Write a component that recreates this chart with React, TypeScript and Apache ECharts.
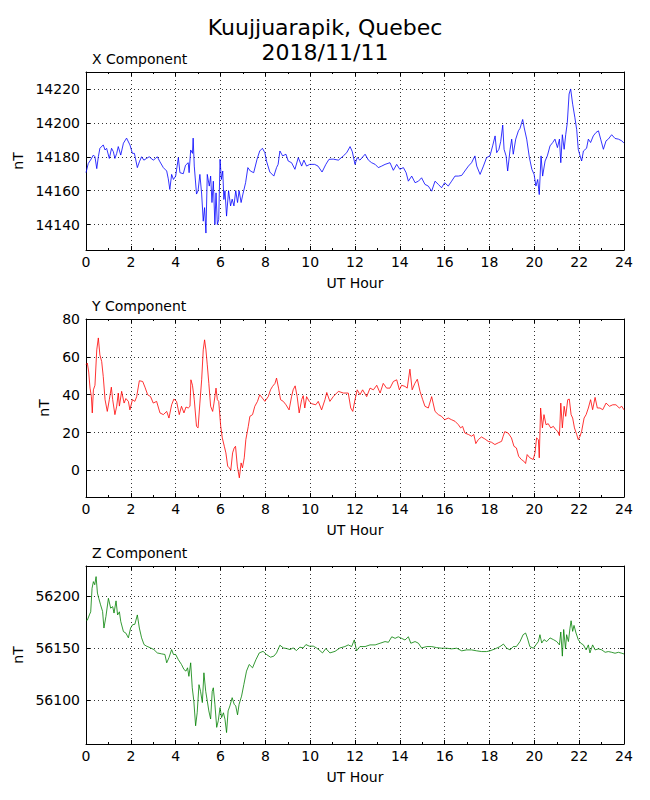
import React, { useEffect, useRef } from "react";
import * as echarts from "echarts";

const TITLE_LINE1 = "Kuujjuarapik, Quebec";
const TITLE_LINE2 = "2018/11/11";
const PANEL_TITLES = ["X Component", "Y Component", "Z Component"];
const X_AXIS_NAME = "UT Hour";
const Y_AXIS_NAME = "nT";
const LINE_COLORS = ["#0000ff", "#ff0000", "#008000"];

const X_TICKS = [14140, 14160, 14180, 14200, 14220];
const Y_TICKS = [0, 20, 40, 60, 80];
const Z_TICKS = [56100, 56150, 56200];
const X_RANGE = [14125, 14230];
const Y_RANGE = [-14, 80];
const Z_RANGE = [56058, 56229];

const xComp: [number, number][] = [
  [0, 14170.6], [0.1, 14176], [0.2, 14178], [0.33, 14181], [0.4, 14180], [0.48, 14173], [0.55, 14180], [0.62, 14185], [0.77, 14187], [0.85, 14184], [0.92, 14185], [1.04, 14179], [1.14, 14185], [1.22, 14183], [1.29, 14179], [1.37, 14182], [1.44, 14186], [1.55, 14181], [1.67, 14188], [1.81, 14191], [1.96, 14187], [2.07, 14182], [2.16, 14182], [2.29, 14173.6], [2.38, 14177], [2.48, 14180], [2.58, 14178], [2.7, 14179], [2.82, 14180], [3.0, 14178], [3.1, 14179], [3.18, 14180], [3.3, 14177], [3.45, 14173.6], [3.6, 14171.6], [3.67, 14167], [3.74, 14160.7], [3.82, 14169.6], [3.9, 14166.6], [4.0, 14168.6], [4.12, 14179.5], [4.19, 14170.6], [4.34, 14170], [4.44, 14175], [4.56, 14176.5], [4.6, 14170.6], [4.67, 14184], [4.75, 14182], [4.78, 14191], [4.83, 14174.5], [4.93, 14158], [5.0, 14160], [5.08, 14169.6], [5.16, 14158], [5.23, 14142], [5.29, 14150], [5.35, 14135], [5.41, 14169.6], [5.5, 14162.7], [5.56, 14168.6], [5.62, 14153], [5.68, 14165.6], [5.75, 14140], [5.8, 14158.7], [5.86, 14140], [5.92, 14143], [5.98, 14178.5], [6.04, 14166.6], [6.1, 14171.6], [6.15, 14154.8], [6.2, 14160], [6.27, 14145], [6.36, 14160], [6.45, 14151], [6.52, 14155], [6.6, 14151], [6.68, 14160], [6.76, 14153], [6.83, 14160], [6.92, 14153], [7.0, 14158], [7.12, 14164.7], [7.22, 14173.6], [7.33, 14171.6], [7.48, 14170.6], [7.63, 14178.5], [7.75, 14183.4], [7.87, 14185], [7.98, 14182.4], [8.05, 14177.5], [8.2, 14171], [8.38, 14168.6], [8.5, 14173.6], [8.57, 14175.5], [8.65, 14183.4], [8.77, 14180.5], [8.92, 14181.5], [9.02, 14177.5], [9.17, 14176.5], [9.32, 14172.6], [9.47, 14179.5], [9.62, 14174.5], [9.72, 14178], [9.84, 14174.5], [9.98, 14175.5], [10.2, 14175.5], [10.35, 14174.5], [10.53, 14171], [10.7, 14175.5], [10.84, 14178.5], [11.03, 14178.6], [11.26, 14178], [11.48, 14180.5], [11.63, 14182.4], [11.78, 14186], [11.88, 14183], [12.0, 14175.5], [12.1, 14179.5], [12.22, 14178], [12.45, 14181.5], [12.6, 14178], [12.74, 14176.5], [12.9, 14175.5], [13.04, 14173.6], [13.19, 14174.5], [13.34, 14175.5], [13.56, 14176.5], [13.71, 14172], [13.86, 14175.5], [14.0, 14172.6], [14.16, 14173.6], [14.28, 14170.6], [14.38, 14165.6], [14.53, 14168.6], [14.68, 14164.7], [14.83, 14165.6], [14.97, 14167.6], [15.12, 14163.7], [15.27, 14162.7], [15.42, 14159.7], [15.57, 14165.6], [15.72, 14163.7], [15.86, 14161.7], [16.0, 14164.7], [16.16, 14162.7], [16.31, 14165.6], [16.46, 14168.6], [16.61, 14168.6], [16.76, 14169], [16.9, 14171.6], [17.06, 14174.5], [17.2, 14176.5], [17.35, 14180.5], [17.43, 14174.5], [17.58, 14169.6], [17.73, 14174.5], [17.87, 14179.5], [18.02, 14180.5], [18.14, 14186.4], [18.25, 14192.3], [18.32, 14182.4], [18.42, 14184.4], [18.5, 14189], [18.59, 14198.7], [18.65, 14184.4], [18.74, 14180.5], [18.81, 14171.6], [18.92, 14184.4], [18.99, 14190.4], [19.06, 14181.5], [19.17, 14190.4], [19.29, 14195.3], [19.36, 14196.7], [19.48, 14202], [19.55, 14197], [19.66, 14190.4], [19.78, 14179.5], [19.89, 14172.6], [19.99, 14169.6], [20.07, 14162.7], [20.15, 14166.6], [20.22, 14157.7], [20.3, 14180.5], [20.37, 14168.6], [20.48, 14177.5], [20.58, 14180.5], [20.7, 14186.4], [20.82, 14188.4], [20.92, 14190.4], [21.03, 14185.4], [21.12, 14190.4], [21.18, 14176.5], [21.25, 14193], [21.33, 14184.4], [21.4, 14193], [21.47, 14200], [21.55, 14217], [21.62, 14220], [21.71, 14211], [21.81, 14203], [21.89, 14196], [21.96, 14184.4], [22.04, 14180.5], [22.11, 14177.5], [22.19, 14183.4], [22.33, 14185], [22.41, 14190.4], [22.51, 14188.4], [22.63, 14192.3], [22.75, 14194.3], [22.86, 14195.3], [22.96, 14190.4], [23.08, 14184.4], [23.2, 14189.4], [23.3, 14190.4], [23.45, 14193], [23.6, 14190.8], [23.75, 14190.4], [23.9, 14189.4], [24.0, 14188],
];

const yComp: [number, number][] = [
  [0, 55.8], [0.06, 56.7], [0.12, 52], [0.18, 43.5], [0.24, 39], [0.28, 30.4], [0.33, 42.6], [0.4, 45], [0.48, 63.7], [0.55, 70], [0.62, 61], [0.7, 57.5], [0.77, 49.6], [0.85, 37.4], [0.95, 31.2], [1.04, 37.4], [1.13, 44], [1.19, 37.4], [1.29, 29.5], [1.37, 34], [1.44, 40.9], [1.49, 34], [1.59, 41.8], [1.7, 35.6], [1.78, 38], [1.89, 36.5], [1.96, 32], [2.07, 37.4], [2.18, 36.5], [2.26, 39], [2.38, 47.4], [2.53, 47], [2.63, 44], [2.75, 40], [2.88, 39], [3.0, 35.6], [3.15, 36.5], [3.3, 30.4], [3.45, 29.5], [3.6, 31.2], [3.7, 27.7], [3.82, 34.7], [3.92, 37.7], [4.04, 36.5], [4.16, 29.5], [4.26, 33.9], [4.37, 30.4], [4.46, 33.5], [4.56, 33], [4.64, 33.9], [4.68, 47.9], [4.75, 45], [4.83, 37.4], [4.93, 23.3], [5.0, 22.5], [5.08, 35.6], [5.16, 47.9], [5.23, 63.7], [5.29, 69], [5.35, 63.7], [5.41, 55.8], [5.48, 46], [5.56, 33.9], [5.65, 31.2], [5.71, 35.6], [5.8, 43.5], [5.86, 37.4], [5.92, 36.5], [6.01, 23.3], [6.08, 17.2], [6.17, 12.8], [6.24, 9.3], [6.32, 2.3], [6.39, 1.4], [6.46, 0.2], [6.54, 9.3], [6.61, 11.9], [6.67, 12.8], [6.75, 2.3], [6.84, -3.9], [6.92, 4.0], [6.98, 1.4], [7.06, 6.7], [7.13, 16.3], [7.24, 23.3], [7.31, 28.6], [7.43, 29.5], [7.53, 33.9], [7.65, 36.5], [7.75, 40], [7.87, 38.2], [7.98, 36.5], [8.13, 39], [8.23, 42.6], [8.32, 44.4], [8.43, 46], [8.5, 48.8], [8.59, 43.5], [8.68, 37.4], [8.8, 36.5], [8.92, 34.7], [9.06, 32], [9.17, 39], [9.24, 42.6], [9.33, 44.7], [9.42, 39], [9.51, 30.4], [9.62, 37.4], [9.69, 39.5], [9.76, 33], [9.84, 39], [9.96, 36.5], [10.06, 35.3], [10.25, 34.7], [10.36, 36.5], [10.51, 32], [10.66, 37.4], [10.74, 41.2], [10.88, 36.5], [11.03, 39], [11.26, 41.8], [11.48, 40.9], [11.7, 40.9], [11.81, 33], [11.9, 31.2], [12.0, 37.4], [12.1, 42.6], [12.22, 40], [12.34, 42.6], [12.52, 39], [12.67, 43.5], [12.82, 42.6], [12.97, 45], [13.12, 40.9], [13.26, 46], [13.41, 43.5], [13.56, 43.5], [13.71, 47], [13.86, 47.9], [13.98, 42.6], [14.08, 45], [14.23, 44.4], [14.33, 43.5], [14.45, 53.5], [14.55, 42.6], [14.67, 46], [14.78, 48.2], [14.9, 41.8], [15.02, 37.4], [15.12, 33.9], [15.27, 33], [15.42, 39], [15.57, 31.2], [15.72, 29.5], [15.86, 28.6], [16.0, 26.8], [16.16, 27.7], [16.31, 26.8], [16.46, 26], [16.61, 24.2], [16.71, 22.5], [16.8, 23.3], [16.9, 19.8], [17.06, 19], [17.2, 18.1], [17.3, 19], [17.39, 14.2], [17.5, 16.3], [17.64, 17.7], [17.79, 16.7], [17.94, 15.4], [18.09, 14.9], [18.24, 13.7], [18.39, 14.6], [18.54, 15.4], [18.61, 18.1], [18.68, 20.5], [18.83, 19.8], [18.98, 17.2], [19.09, 12.8], [19.2, 11.9], [19.3, 7.5], [19.42, 5.8], [19.53, 4.9], [19.61, 3.7], [19.68, 8.4], [19.8, 6.7], [19.95, 5.8], [20.03, 9.3], [20.1, 17.2], [20.18, 16.3], [20.22, 6.7], [20.28, 33], [20.36, 22.5], [20.43, 29.5], [20.52, 24.2], [20.62, 24.7], [20.73, 22.5], [20.85, 23.3], [20.95, 21.6], [21.04, 20.7], [21.12, 18.4], [21.18, 35.6], [21.25, 22.5], [21.33, 33.9], [21.4, 28.6], [21.49, 37.4], [21.56, 37.7], [21.64, 29.5], [21.71, 27.7], [21.79, 22.5], [21.89, 19], [21.96, 16.3], [22.04, 18.1], [22.11, 20.7], [22.22, 27.7], [22.31, 29.5], [22.41, 33], [22.51, 37.4], [22.6, 32.1], [22.71, 38.6], [22.81, 33], [22.93, 33], [23.05, 32.1], [23.2, 35.6], [23.35, 33.9], [23.5, 34.7], [23.64, 34.7], [23.79, 33], [23.9, 33.9], [24.0, 32],
];

const zComp: [number, number][] = [
  [0, 56177], [0.06, 56177], [0.15, 56182], [0.21, 56185], [0.27, 56207.6], [0.33, 56214], [0.39, 56211], [0.45, 56218.8], [0.51, 56203], [0.57, 56198], [0.65, 56191.7], [0.74, 56185.4], [0.8, 56169.4], [0.89, 56180.6], [1.0, 56198], [1.1, 56188.5], [1.19, 56190], [1.25, 56183.8], [1.34, 56195.5], [1.41, 56182], [1.49, 56185], [1.55, 56175.8], [1.67, 56166], [1.78, 56164.5], [1.89, 56160], [1.99, 56169.4], [2.08, 56172.6], [2.18, 56173], [2.29, 56182], [2.38, 56169.4], [2.48, 56160], [2.59, 56153.5], [2.7, 56152], [2.88, 56150.3], [3.03, 56148.7], [3.18, 56145.5], [3.37, 56144.6], [3.52, 56144], [3.6, 56136], [3.7, 56140.9], [3.82, 56148.7], [3.9, 56144], [4.0, 56144], [4.12, 56139], [4.26, 56134.4], [4.37, 56129.6], [4.46, 56128], [4.53, 56131.2], [4.59, 56123], [4.67, 56136], [4.74, 56112], [4.81, 56099.4], [4.89, 56075.5], [4.96, 56088], [5.04, 56115], [5.11, 56108.6], [5.19, 56097.8], [5.26, 56126.4], [5.34, 56108.6], [5.41, 56099.4], [5.48, 56089.8], [5.56, 56082], [5.63, 56108.6], [5.68, 56112], [5.75, 56096.2], [5.83, 56074], [5.9, 56080.3], [5.98, 56093], [6.05, 56083.4], [6.13, 56088], [6.2, 56081.8], [6.27, 56069], [6.34, 56089.8], [6.42, 56094.6], [6.52, 56102.5], [6.61, 56096.2], [6.68, 56094.6], [6.76, 56086], [6.83, 56096.2], [6.94, 56104], [7.04, 56115], [7.16, 56128], [7.28, 56134.4], [7.43, 56131.2], [7.58, 56139], [7.73, 56145.5], [7.9, 56147], [8.05, 56144], [8.23, 56141.4], [8.38, 56142.4], [8.5, 56145.5], [8.65, 56152.9], [8.8, 56150.3], [8.95, 56149.7], [9.1, 56148.7], [9.24, 56150.3], [9.39, 56147.8], [9.54, 56151], [9.69, 56150.3], [9.81, 56153.5], [9.96, 56152], [10.14, 56152], [10.28, 56150.3], [10.43, 56147.8], [10.55, 56145.5], [10.7, 56149.7], [10.88, 56145.5], [11.11, 56147], [11.33, 56150.3], [11.55, 56151.6], [11.7, 56153.2], [11.85, 56151.6], [11.97, 56158], [12.07, 56147.5], [12.22, 56151.6], [12.45, 56151.6], [12.67, 56153.2], [12.9, 56153.2], [13.12, 56154.8], [13.34, 56156.4], [13.49, 56155.7], [13.64, 56161], [13.79, 56159.5], [13.93, 56161], [14.08, 56159.5], [14.23, 56157.9], [14.38, 56161], [14.49, 56154.8], [14.68, 56156.4], [14.83, 56154.8], [14.97, 56150.3], [15.2, 56151.6], [15.42, 56151.6], [15.64, 56150.6], [15.86, 56150], [16.09, 56150], [16.31, 56149.4], [16.54, 56150], [16.76, 56147.5], [16.98, 56148.4], [17.2, 56148.4], [17.43, 56147.5], [17.65, 56146.8], [17.87, 56146.8], [18.02, 56147.5], [18.25, 56149.4], [18.47, 56151.6], [18.62, 56154], [18.77, 56150], [18.92, 56148.4], [19.06, 56151.6], [19.2, 56151.6], [19.36, 56156.4], [19.5, 56163], [19.61, 56164.6], [19.69, 56159.9], [19.8, 56151.6], [19.96, 56150], [20.07, 56153.2], [20.18, 56156.4], [20.25, 56163], [20.33, 56155], [20.43, 56158.3], [20.55, 56156.4], [20.7, 56159.9], [20.85, 56158.3], [21.0, 56156.4], [21.12, 56153.2], [21.18, 56165.6], [21.25, 56142.4], [21.31, 56168], [21.39, 56149.4], [21.44, 56163], [21.52, 56156.4], [21.59, 56169.2], [21.64, 56176.4], [21.71, 56166.2], [21.77, 56171.9], [21.86, 56164.6], [21.96, 56158.3], [22.06, 56155], [22.19, 56153.2], [22.31, 56148.4], [22.41, 56153.2], [22.48, 56145.5], [22.6, 56153.2], [22.71, 56148.4], [22.86, 56149.4], [23.01, 56148.4], [23.16, 56146.1], [23.3, 56146.8], [23.45, 56146.1], [23.6, 56145.2], [23.75, 56146.1], [23.9, 56145.2], [24.0, 56144.5],
];

const SERIES_DATA = [xComp, yComp, zComp];
const TICKS = [X_TICKS, Y_TICKS, Z_TICKS];
const RANGES = [X_RANGE, Y_RANGE, Z_RANGE];

export default function App() {
  const ref = useRef<HTMLDivElement>(null);

  useEffect(() => {
    document.body.style.margin = "0";
    if (!ref.current) return;
    const chart = echarts.init(ref.current, undefined, { renderer: "svg" });

    const FONT = "DejaVu Sans";
    const tops = [72, 319, 566];
    const gridH = 178;
    const left = 86;
    const right = 26;
    const nameGaps = [47, 23, 47];

    const grids: any[] = [];
    const xAxes: any[] = [];
    const yAxes: any[] = [];
    const series: any[] = [];
    const graphics: any[] = [
      {
        type: "text",
        x: 325,
        y: 27,
        style: { text: TITLE_LINE1, fontSize: 22, fontFamily: FONT, fill: "#000", align: "center", verticalAlign: "middle" },
      },
      {
        type: "text",
        x: 325,
        y: 52,
        style: { text: TITLE_LINE2, fontSize: 22, fontFamily: FONT, fill: "#000", align: "center", verticalAlign: "middle" },
      },
    ];

    const dotted = { color: "#000", type: [1, 3], width: 0.8 };
    const plain = (v: number) => String(v);

    for (let i = 0; i < 3; i++) {
      grids.push({ left, right, top: tops[i], height: gridH, show: false });
      const baseX = {
        type: "value",
        gridIndex: i,
        min: 0,
        max: 24,
        interval: 2,
        axisLine: { show: true, onZero: false, lineStyle: { color: "#000", width: 1 } },
        axisTick: { show: true, inside: true, length: 4, lineStyle: { color: "#000" } },
        minorTick: { show: true, splitNumber: 2, length: 2, lineStyle: { color: "#000" } },
      };
      xAxes.push({
        ...baseX,
        position: "bottom",
        axisLabel: { color: "#000", fontSize: 14, fontFamily: FONT, margin: 5, formatter: plain },
        splitLine: { show: true, lineStyle: dotted },
        name: X_AXIS_NAME,
        nameLocation: "middle",
        nameGap: 26,
        nameTextStyle: { color: "#000", fontSize: 14, fontFamily: FONT },
      });
      xAxes.push({
        ...baseX,
        position: "top",
        axisLabel: { show: false },
        splitLine: { show: false },
      });
      const baseY = {
        type: "value",
        gridIndex: i,
        min: RANGES[i][0],
        max: RANGES[i][1],
        axisLine: { show: true, onZero: false, lineStyle: { color: "#000", width: 1 } },
        axisTick: { show: true, inside: true, length: 4, customValues: TICKS[i], lineStyle: { color: "#000" } },
      };
      yAxes.push({
        ...baseY,
        position: "left",
        axisLabel: { color: "#000", fontSize: 14, fontFamily: FONT, margin: 6, customValues: TICKS[i], formatter: plain },
        splitLine: { show: true, lineStyle: dotted },
        name: Y_AXIS_NAME,
        nameLocation: "middle",
        nameGap: nameGaps[i],
        nameTextStyle: { color: "#000", fontSize: 14, fontFamily: FONT },
      });
      yAxes.push({
        ...baseY,
        position: "right",
        axisLabel: { show: false },
        splitLine: { show: false },
      });
      series.push({
        type: "line",
        xAxisIndex: i * 2,
        yAxisIndex: i * 2,
        data: SERIES_DATA[i],
        showSymbol: false,
        symbol: "none",
        lineStyle: { color: LINE_COLORS[i], width: 0.8 },
        itemStyle: { color: LINE_COLORS[i] },
        clip: true,
        z: 3,
      });
      graphics.push({
        type: "text",
        left: 92,
        top: tops[i] - 20,
        style: { text: PANEL_TITLES[i], fontSize: 14, fontFamily: FONT, fill: "#000" },
      });
    }

    chart.setOption({
      animation: false,
      backgroundColor: "#fff",
      textStyle: { fontFamily: FONT },
      grid: grids,
      xAxis: xAxes,
      yAxis: yAxes,
      series,
      graphic: graphics,
    });

    return () => chart.dispose();
  }, []);

  return <div ref={ref} style={{ width: 650, height: 800 }} />;
}
